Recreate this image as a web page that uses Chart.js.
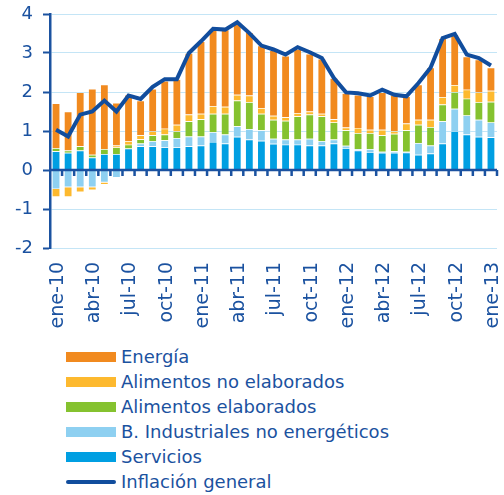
<!DOCTYPE html>
<html>
<head>
<meta charset="utf-8">
<script src="https://cdn.jsdelivr.net/npm/chart.js"></script>
<style>
  body { margin: 0; background: #fff; }
  #wrap { position: relative; width: 504px; height: 495px; }
  #chart { position: absolute; left: 0; top: 0; }
  #legend { position: absolute; left: 66px; top: 344px; margin: 0; padding: 0; list-style: none; }
  #legend li { height: 25px; display: flex; align-items: center; color: #1b52a0;
    font-family: "DejaVu Sans", sans-serif; font-size: 18px; white-space: nowrap; }
  .swatch { width: 50px; height: 10px; margin-right: 5px; }
  .swatch.line { height: 4px; border-radius: 2px; }
</style>
</head>
<body>
<div id="wrap">
  <canvas id="chart" width="504" height="340"></canvas>
  <ul id="legend"></ul>
</div>
<script>
// DATA (contribuciones, puntos porcentuales)
const months = [
  "ene-10", "feb-10", "mar-10", "abr-10", "may-10", "jun-10", "jul-10", "ago-10", "sep-10", "oct-10", "nov-10", "dic-10",
  "ene-11", "feb-11", "mar-11", "abr-11", "may-11", "jun-11", "jul-11", "ago-11", "sep-11", "oct-11", "nov-11", "dic-11",
  "ene-12", "feb-12", "mar-12", "abr-12", "may-12", "jun-12", "jul-12", "ago-12", "sep-12", "oct-12", "nov-12", "dic-12",
  "ene-13"
];

const servicios = [
  0.48, 0.44, 0.50, 0.32, 0.41, 0.41, 0.55, 0.61, 0.61, 0.58, 0.58, 0.61,
  0.63, 0.72, 0.68, 0.85, 0.78, 0.75, 0.67, 0.65, 0.65, 0.63, 0.63, 0.68,
  0.56, 0.50, 0.46, 0.44, 0.44, 0.45, 0.39, 0.42, 0.68, 1.00, 0.91, 0.85,
  0.84
];
const industriales = [
  -0.49, -0.44, -0.44, -0.44, -0.32, -0.20, 0.00, 0.07, 0.13, 0.18, 0.24, 0.25,
  0.23, 0.25, 0.23, 0.27, 0.27, 0.27, 0.13, 0.13, 0.13, 0.17, 0.11, 0.10,
  0.06, 0.04, 0.08, 0.03, 0.04, 0.02, 0.30, 0.21, 0.57, 0.57, 0.49, 0.44,
  0.38
];
const elaborados = [
  0.08, 0.06, 0.11, 0.07, 0.13, 0.17, 0.10, 0.11, 0.15, 0.15, 0.17, 0.39,
  0.44, 0.47, 0.53, 0.66, 0.69, 0.42, 0.49, 0.48, 0.60, 0.62, 0.64, 0.44,
  0.40, 0.41, 0.41, 0.42, 0.45, 0.55, 0.47, 0.47, 0.43, 0.43, 0.43, 0.45,
  0.53
];
const noElaborados = [
  -0.20, -0.25, -0.13, -0.08, -0.06, 0.05, 0.09, 0.10, 0.10, 0.15, 0.17, 0.17,
  0.14, 0.20, 0.18, 0.15, 0.17, 0.15, 0.10, 0.09, 0.08, 0.08, 0.06, 0.08,
  0.07, 0.13, 0.08, 0.14, 0.07, 0.17, 0.13, 0.19, 0.19, 0.18, 0.23, 0.25,
  0.28
];
const energia = [
  1.15, 1.00, 1.38, 1.69, 1.65, 1.09, 1.19, 0.89, 1.09, 1.23, 1.17, 1.58,
  1.86, 1.98, 1.98, 1.86, 1.62, 1.60, 1.68, 1.58, 1.64, 1.48, 1.41, 1.06,
  0.88, 0.85, 0.86, 0.96, 0.93, 0.70, 0.90, 1.34, 1.51, 1.29, 0.85, 0.84,
  0.60
];
const inflacion = [
  1.03, 0.86, 1.42, 1.50, 1.78, 1.50, 1.91, 1.82, 2.13, 2.33, 2.33, 3.00,
  3.30, 3.62, 3.60, 3.79, 3.51, 3.19, 3.09, 2.96, 3.15, 3.02, 2.87, 2.36,
  1.99, 1.97, 1.91, 2.06, 1.93, 1.89, 2.23, 2.62, 3.38, 3.49, 2.96, 2.87,
  2.68
];

const blue = "#1b52a0";

// bars, bottom of the stack first
const barSeries = [
  { label: "Servicios", data: servicios, color: "#009fe2" },
  { label: "B. Industriales no energéticos", data: industriales, color: "#8ed0f1" },
  { label: "Alimentos elaborados", data: elaborados, color: "#85c22f" },
  { label: "Alimentos no elaborados", data: noElaborados, color: "#fdb92f" },
  { label: "Energía", data: energia, color: "#f18a1f" }
];

// ZERO LINE WITH CATEGORY TICKS
const zeroLine = {
  id: "zeroLine",
  afterDatasetsDraw(chart) {
    const { ctx, chartArea, scales: { x, y } } = chart;
    const y0 = y.getPixelForValue(0);
    const half = (x.getPixelForValue(1) - x.getPixelForValue(0)) / 2;
    ctx.save();
    ctx.strokeStyle = blue;
    ctx.lineWidth = 2.5;
    ctx.beginPath();
    ctx.moveTo(chartArea.left, y0);
    ctx.lineTo(chartArea.right, y0);
    for (let i = 0; i < months.length; i++) {
      const xp = x.getPixelForValue(i) + half;
      ctx.moveTo(xp, y0);
      ctx.lineTo(xp, y0 + 6);
    }
    ctx.stroke();
    ctx.restore();
  }
};

Chart.defaults.font.family = "'DejaVu Sans', sans-serif";
Chart.defaults.font.size = 18;
Chart.defaults.color = blue;

new Chart(document.getElementById("chart"), {
  data: {
    labels: months,
    datasets: [
      {
        type: "line",
        label: "Inflación general",
        data: inflacion,
        borderColor: "#114d9d",
        borderWidth: 4,
        pointRadius: 0,
        tension: 0,
        order: 0
      },
      ...barSeries.map(s => ({
        type: "bar",
        label: s.label,
        data: s.data,
        backgroundColor: s.color,
        borderColor: "rgba(255,255,255,0.35)",
        borderWidth: 0.7,
        barPercentage: 0.68,
        categoryPercentage: 1,
        order: 1
      }))
    ]
  },
  options: {
    responsive: false,
    animation: false,
    layout: { padding: { top: 14, right: 7, left: 0, bottom: 0 } },
    plugins: { legend: { display: false }, tooltip: { enabled: false } },
    scales: {
      x: {
        stacked: true,
        afterFit(scale) {
          scale.height = 92;
          scale.paddingLeft = 0;
          scale.paddingRight = 0;
        },
        grid: { display: false, drawTicks: false },
        border: { display: false },
        ticks: {
          autoSkip: false,
          minRotation: 90,
          maxRotation: 90,
          padding: 14,
          labelOffset: 2,
          font: { size: 19 },
          callback: (v, i) => (i % 3 === 0 ? months[i] : "")
        }
      },
      y: {
        stacked: true,
        min: -2,
        max: 4,
        afterFit(scale) {
          scale.width = 50;
          scale.paddingTop = 0;
          scale.paddingBottom = 0;
        },
        grid: { color: "#c4e5f6", lineWidth: 1, tickColor: blue, tickLength: 7, tickWidth: 2 },
        border: { color: blue, width: 2.5 },
        ticks: { stepSize: 1, padding: 10 }
      }
    }
  },
  plugins: [zeroLine]
});

// LEGEND
const legend = document.getElementById("legend");
barSeries.slice().reverse().forEach(s => {
  legend.innerHTML += `<li><span class="swatch" style="background:${s.color}"></span>${s.label}</li>`;
});
legend.innerHTML += `<li><span class="swatch line" style="background:#114d9d"></span>Inflación general</li>`;
</script>
</body>
</html>
